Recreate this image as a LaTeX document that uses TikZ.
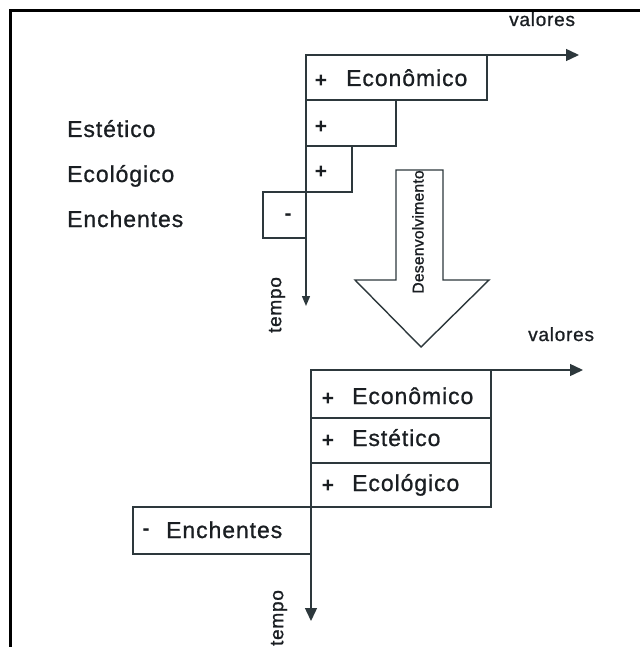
\documentclass[tikz,border=0pt]{standalone}
\usepackage{fontspec}
\setmainfont{Liberation Sans}
\newfontfamily\lab{Liberation Sans}[LetterSpace=4,FakeBold=0.9]
\newfontfamily\devf{Liberation Sans}[LetterSpace=1,FakeBold=1.1]
\usetikzlibrary{arrows.meta}
\definecolor{ln}{RGB}{45,56,60}
\definecolor{tx}{RGB}{26,30,34}
\begin{document}
\begin{tikzpicture}[x=1pt,y=-1pt,
  box/.style={draw=ln,line width=1.4pt,inner sep=0pt},
  big/.style={font=\lab\fontsize{23}{23}\selectfont,text=tx,inner sep=0pt},
  small/.style={font=\lab\fontsize{19}{19}\selectfont,text=tx,inner sep=0pt},
  dev/.style={font=\devf\fontsize{15.8}{15.8}\selectfont,text=tx,inner sep=0pt},
  sign/.style={font=\fontsize{21}{21}\selectfont\bfseries,text=tx,inner sep=0pt},
  axis/.style={draw=ln,line width=1.4pt},
  bigtip/.style={-{Triangle[length=13pt,width=12pt]}},
  smalltip/.style={-{Triangle[length=10pt,width=8pt]}},
  ]
\useasboundingbox (0,0) rectangle (639,647);
\fill[white] (0,0) rectangle (639,647);
% frame
\draw[line width=3pt,black] (10.5,650) -- (10.5,10.5) -- (642,10.5);

% ---------- upper diagram ----------
\node[box,minimum width=181pt,minimum height=45pt] (ue1) at (396.5,77.5) {};
\node[box,minimum width=90pt,minimum height=46pt] (ue2) at (351,123) {};
\node[box,minimum width=46pt,minimum height=46pt] (ue3) at (329,169) {};
\node[box,minimum width=43pt,minimum height=46pt] (ue4) at (284.5,215) {};

\coordinate (o1) at (306,55);
\coordinate (h1) at (579,55);
\coordinate (v1) at (306,306);
\draw[axis,bigtip] (o1) -- (h1);
\draw[axis,smalltip] (o1) -- (v1);

\node[sign] (up1) at (321,81) {+};
\node[big,anchor=base west] (ut1) at (346,86) {Econômico};
\node[sign] (up2) at (321,127) {+};
\node[sign] (up3) at (321,172) {+};
\node[sign] (um4) at (288,217) {-};

\node[big,anchor=base west] (ul2) at (67,137) {Estético};
\node[big,anchor=base west] (ul3) at (67,182) {Ecológico};
\node[big,anchor=base west] (ul4) at (67,227) {Enchentes};

\node[small,anchor=base west] (uval) at (509,26) {valores};
\node[small,rotate=90] (utem) at (277,305) {tempo};

% development arrow
\draw[draw=ln,line width=1.4pt,fill=white] (396,170) -- (443,170) -- (443,280) -- (489,280)
  -- (421,347) -- (355,280) -- (396,280) -- cycle;
\node[dev,rotate=90] (devt) at (418,232) {Desenvolvimento};

% ---------- lower diagram ----------
\node[box,minimum width=180pt,minimum height=48pt] (le1) at (401,394) {};
\node[box,minimum width=180pt,minimum height=45pt] (le2) at (401,440.5) {};
\node[box,minimum width=180pt,minimum height=44pt] (le3) at (401,485) {};
\node[box,minimum width=178pt,minimum height=47pt] (le4) at (222,530.5) {};

\coordinate (o2) at (311,370);
\coordinate (h2) at (583,370);
\coordinate (v2) at (311,621);
\draw[axis,bigtip] (o2) -- (h2);
\draw[axis,bigtip] (o2) -- (v2);

\node[sign] (lp1) at (328,399) {+};
\node[big,anchor=base west] (lt1) at (352,404) {Econômico};
\node[sign] (lp2) at (328,441) {+};
\node[big,anchor=base west] (lt2) at (352,446) {Estético};
\node[sign] (lp3) at (328,486) {+};
\node[big,anchor=base west] (lt3) at (352,491) {Ecológico};
\node[sign] (lm4) at (146,532) {-};
\node[big,anchor=base west] (lt4) at (166,538) {Enchentes};

\node[small,anchor=base west] (lval) at (528,341) {valores};
\node[small,rotate=90] (ltem) at (279,618) {tempo};
\end{tikzpicture}
\end{document}
